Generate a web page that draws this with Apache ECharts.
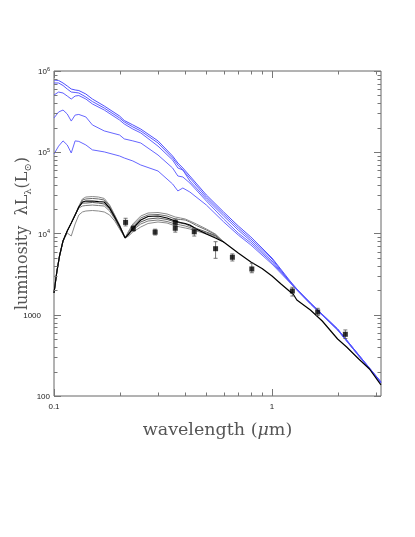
<!DOCTYPE html>
<html>
<head>
<meta charset="utf-8">
<script src="https://cdn.jsdelivr.net/npm/echarts@6/dist/echarts.min.js"></script>
<style>
html,body{margin:0;padding:0;background:#fff;}
#c{width:415px;height:537px;}
</style>
</head>
<body>
<div id="c"></div>
<script>
// ---- data ----
const wlModel = [0.100,0.103,0.106,0.110,0.115,0.120,0.125,0.130,0.135,0.140,0.150,0.160,0.170,0.180,0.190,0.200,0.212,0.220,0.230,0.250,0.270,0.300,0.330,0.360,0.380,0.400,0.420,0.450,0.500,0.550,0.600,0.700,0.800,0.900,1.000,1.100,1.200,1.250,1.300,1.500,1.700,2.000,2.200,2.500,2.800,3.160];
const blackModel = [1853,3360,5285,8090,10740,13460,16900,21200,24400,25100,25100,24700,24400,20600,15960,12370,8810,9860,11690,14660,16190,16420,15520,14250,13650,13280,12730,11360,9860,8810,7860,5750,4460,3710,3000,2390,1960,1800,1520,1144,838,503,401,285,215,137];
const wlGray = [0.100,0.103,0.106,0.110,0.115,0.120,0.125,0.130,0.135,0.140,0.150,0.160,0.170,0.180,0.190,0.200,0.212,0.220,0.230,0.250,0.270,0.300,0.330,0.360,0.380,0.400,0.420,0.450,0.500,0.550,0.600];
const gray1 = [1853,3360,5285,8090,10740,13460,16900,21800,26600,28100,28500,28100,27000,22400,16900,12730,8810,10740,13090,16420,17870,18130,17380,15960,15520,15080,14250,13090,11360,9860,7860];
const gray2 = [1853,3360,5285,8090,10740,13460,16900,21200,25840,26600,27000,26600,25840,21800,16420,12540,8810,10430,12540,15520,16900,17140,16420,15080,14870,14660,13860,12540,11040,9720,7860];
const gray3 = [1853,3360,5285,8090,10740,13460,16900,21200,23710,23710,24090,23710,23070,20030,15520,12020,8810,9860,11360,13860,15080,15520,14870,13860,13460,13090,12370,11530,10430,9450,7860];
const gray4 = [1853,3360,5285,8090,10740,13460,16900,20600,21800,22100,22400,22100,21800,18920,15080,11690,8810,9590,11040,13090,14250,14660,14060,13090,12730,12370,11860,11040,10140,9320,7860];
const gray5 = [1853,3360,5285,8090,10140,9320,13090,16900,18400,18920,19190,18920,18400,16900,14250,11360,8810,9320,10430,12020,13280,13860,13460,12370,12020,11690,11360,10740,9860,9060,7860];

const wlBlue = [0.100,0.105,0.110,0.115,0.120,0.125,0.130,0.140,0.150,0.170,0.200,0.210,0.230,0.250,0.300,0.350,0.370,0.390,0.420,0.500,0.600,0.700,0.800,1.000,1.200,1.300,1.500,2.000,2.500,3.160];
const blue1 = [775000,764000,712000,654000,600000,584000,575000,521000,452000,371000,279000,246000,217000,193000,138000,89900,73800,64000,51000,29800,18400,12400,9060,5000,2680,2080,1400,668,320,149];
const blue2 = [712000,712000,663000,600000,551000,544000,536000,479000,421000,350000,264000,236000,205000,183000,130000,85000,69700,60500,48200,28100,17400,11700,8560,4860,2600,2050,1400,668,320,149];
const blue3 = [507000,551000,536000,492000,452000,492000,499000,452000,393000,331000,249000,223000,193000,173000,119000,80300,64000,60500,44300,26600,16400,11000,8090,4590,2600,2020,1380,658,315,147];
const blue4 = [264000,313000,331000,296000,242000,287000,292000,272000,217000,183000,163000,146000,138000,130000,92500,64000,51000,49600,41800,25100,15100,10100,7640,4400,2570,2020,1360,649,311,145];
const blue5 = [95200,119000,138000,123000,97900,138000,136000,123000,107000,101000,89900,85000,78100,69700,58800,40700,33400,36300,32400,22400,13900,9580,7220,4210,2530,2020,1360,649,311,145];

const obsWl  = [0.213,0.231,0.291,0.360,0.360,0.440,0.551,0.658,0.808,1.240,1.620,2.170];
const obsVal = [13700,11500,10400,13700,11600,10500,6500,5100,3660,1960,1080,575];
const obsLo  = [12400,10700,9580,12600,10400,9300,4950,4590,3290,1700,980,510];
const obsHi  = [15400,12500,11300,15100,12500,11600,7930,5610,4300,2180,1200,650];

const xMajorTicks = [0.1, 1];
const xMinorTicks = [0.2,0.3,0.4,0.5,0.6,0.7,0.8,0.9,2,3];
const yMajorTicks = [100,1000,10000,100000,1000000];
const yMinorTicks = [200,300,400,500,600,700,800,900,2000,3000,4000,5000,6000,7000,8000,9000,20000,30000,40000,50000,60000,70000,80000,90000,200000,300000,400000,500000,600000,700000,800000,900000];
const xTickLabels = {'-1':'0.1','0':'1'};
const yTickLabels = {'2':'{s|100}','3':'{s|1000}{pad|}','4':'{s|10}{p|4}','5':'{s|10}{p|5}','6':'{s|10}{p|6}'};

const X_MIN = 0.1, X_MAX = 3.1623, Y_MIN = 100, Y_MAX = 1000000;

// ---- build ----
const zip = (xs, ys) => xs.map((x, i) => [x, ys[i]]);
const chart = echarts.init(document.getElementById('c'), null, {renderer: 'canvas'});

function lineSeries(xs, ys, color, width, z) {
  return {type: 'line', data: zip(xs, ys), showSymbol: false, symbol: 'none', smooth: false,
    lineStyle: {color: color, width: width}, z: z, silent: true, animation: false};
}

const tickData = [];
xMinorTicks.forEach(v => tickData.push([v, Y_MIN, 0]));
xMajorTicks.forEach(v => tickData.push([v, Y_MIN, 1]));
yMinorTicks.forEach(v => tickData.push([X_MIN, v, 2]));
yMajorTicks.forEach(v => tickData.push([X_MIN, v, 3]));

const tickColor = '#777';
function renderTick(params, api) {
  const kind = api.value(2);
  const v = kind < 2 ? api.value(0) : api.value(1);
  const len = (kind === 1 || kind === 3) ? 7 : 3.5;
  const style = {stroke: tickColor, lineWidth: 1};
  if (kind < 2) {
    const b = api.coord([v, Y_MIN]);
    const t = api.coord([v, Y_MAX]);
    const x = Math.round(b[0]) + 0.5;
    return {type: 'group', children: [
      {type: 'line', shape: {x1: x, y1: b[1], x2: x, y2: b[1] - len}, style: style},
      {type: 'line', shape: {x1: x, y1: t[1], x2: x, y2: t[1] + len}, style: style}
    ]};
  } else {
    const l = api.coord([X_MIN, v]);
    const r = api.coord([X_MAX, v]);
    const y = Math.round(l[1]) + 0.5;
    return {type: 'group', children: [
      {type: 'line', shape: {x1: l[0], y1: y, x2: l[0] + len, y2: y}, style: style},
      {type: 'line', shape: {x1: r[0], y1: y, x2: r[0] - len, y2: y}, style: style}
    ]};
  }
}

function renderErr(params, api) {
  const lo = api.coord([api.value(0), api.value(1)]);
  const hi = api.coord([api.value(0), api.value(2)]);
  const x = lo[0];
  const style = {stroke: '#555', lineWidth: 0.8};
  return {type: 'group', children: [
    {type: 'line', shape: {x1: x, y1: lo[1], x2: x, y2: hi[1]}, style: style},
    {type: 'line', shape: {x1: x - 2, y1: lo[1], x2: x + 2, y2: lo[1]}, style: style},
    {type: 'line', shape: {x1: x - 2, y1: hi[1], x2: x + 2, y2: hi[1]}, style: style}
  ]};
}

const isPow = v => { const k = Math.log10(v); return Math.abs(k - Math.round(k)) < 1e-6; };

const option = {
  backgroundColor: '#fff',
  animation: false,
  grid: {left: 54, top: 71, width: 327, height: 325, show: true, borderColor: '#666', borderWidth: 1,
    backgroundColor: 'transparent', containLabel: false, outerBoundsMode: 'none'},
  xAxis: {
    type: 'log', logBase: 10, min: X_MIN, max: X_MAX,
    axisLine: {show: false}, axisTick: {show: false}, splitLine: {show: false},
    axisLabel: {margin: 7, fontSize: 8, color: '#222', fontFamily: 'Liberation Sans', showMinLabel: true,
      formatter: v => isPow(v) ? (xTickLabels[String(Math.round(Math.log10(v)))] || '') : ''},
    name: '{a|wavelength (}{i|μ}{a|m)}', nameLocation: 'middle', nameGap: 25, nameMoveOverlap: false,
    nameTextStyle: {rich: {
      a: {fontFamily: 'DejaVu Serif', fontSize: 17.5, color: '#555'},
      i: {fontFamily: 'DejaVu Serif', fontStyle: 'italic', fontSize: 17.5, color: '#555'}
    }}
  },
  yAxis: {
    type: 'log', logBase: 10, min: Y_MIN, max: Y_MAX,
    axisLine: {show: false}, axisTick: {show: false}, splitLine: {show: false},
    axisLabel: {margin: 4, fontSize: 8, color: '#222', fontFamily: 'Liberation Sans', showMinLabel: true, showMaxLabel: true,
      formatter: v => isPow(v) ? (yTickLabels[String(Math.round(Math.log10(v)))] || '') : '',
      rich: {
        s: {fontSize: 8, fontFamily: 'Liberation Sans', color: '#222', lineHeight: 10, padding: [2, 0, 0, 0]},
        p: {fontSize: 5.5, fontFamily: 'Liberation Sans', color: '#222', verticalAlign: 'top', lineHeight: 6},
        pad: {width: 9}
      }},
    name: '{t|luminosity  λL}{s|λ}{t|(L}{s|⊙}{t|)}', nameLocation: 'middle', nameGap: 21, nameRotate: 90, nameMoveOverlap: false,
    nameTextStyle: {rich: {
      t: {fontFamily: 'DejaVu Serif', fontSize: 16, color: '#555', lineHeight: 20},
      s: {fontFamily: 'DejaVu Serif', fontSize: 10, color: '#555', verticalAlign: 'bottom', lineHeight: 14}
    }}
  },
  series: [
    lineSeries(wlBlue, blue5, '#6666ff', 1, 2),
    lineSeries(wlBlue, blue4, '#6666ff', 1, 2),
    lineSeries(wlBlue, blue3, '#6060ff', 1, 2),
    lineSeries(wlBlue, blue2, '#5a5aff', 1, 2),
    lineSeries(wlBlue, blue1, '#4f4fff', 1, 2),
    lineSeries(wlGray, gray5, '#8a8a8a', 1, 3),
    lineSeries(wlGray, gray4, '#7a7a7a', 1, 3),
    lineSeries(wlGray, gray3, '#555555', 1, 3),
    lineSeries(wlGray, gray2, '#6a6a6a', 1, 3),
    lineSeries(wlGray, gray1, '#8a8a8a', 1, 3),
    lineSeries(wlModel, blackModel, '#000000', 1.2, 4),
    {type: 'custom', renderItem: renderErr, data: obsWl.map((w, i) => [w, obsLo[i], obsHi[i]]),
      encode: {x: 0, y: [1, 2]}, silent: true, z: 6, clip: false, animation: false},
    {type: 'scatter', data: zip(obsWl, obsVal), symbol: 'rect', symbolSize: 5,
      itemStyle: {color: '#000'}, silent: true, z: 7, animation: false},
    {type: 'custom', renderItem: renderTick, data: tickData, encode: {x: 0, y: 1},
      silent: true, z: 8, clip: false, animation: false}
  ]
};
chart.setOption(option);
</script>
</body>
</html>
